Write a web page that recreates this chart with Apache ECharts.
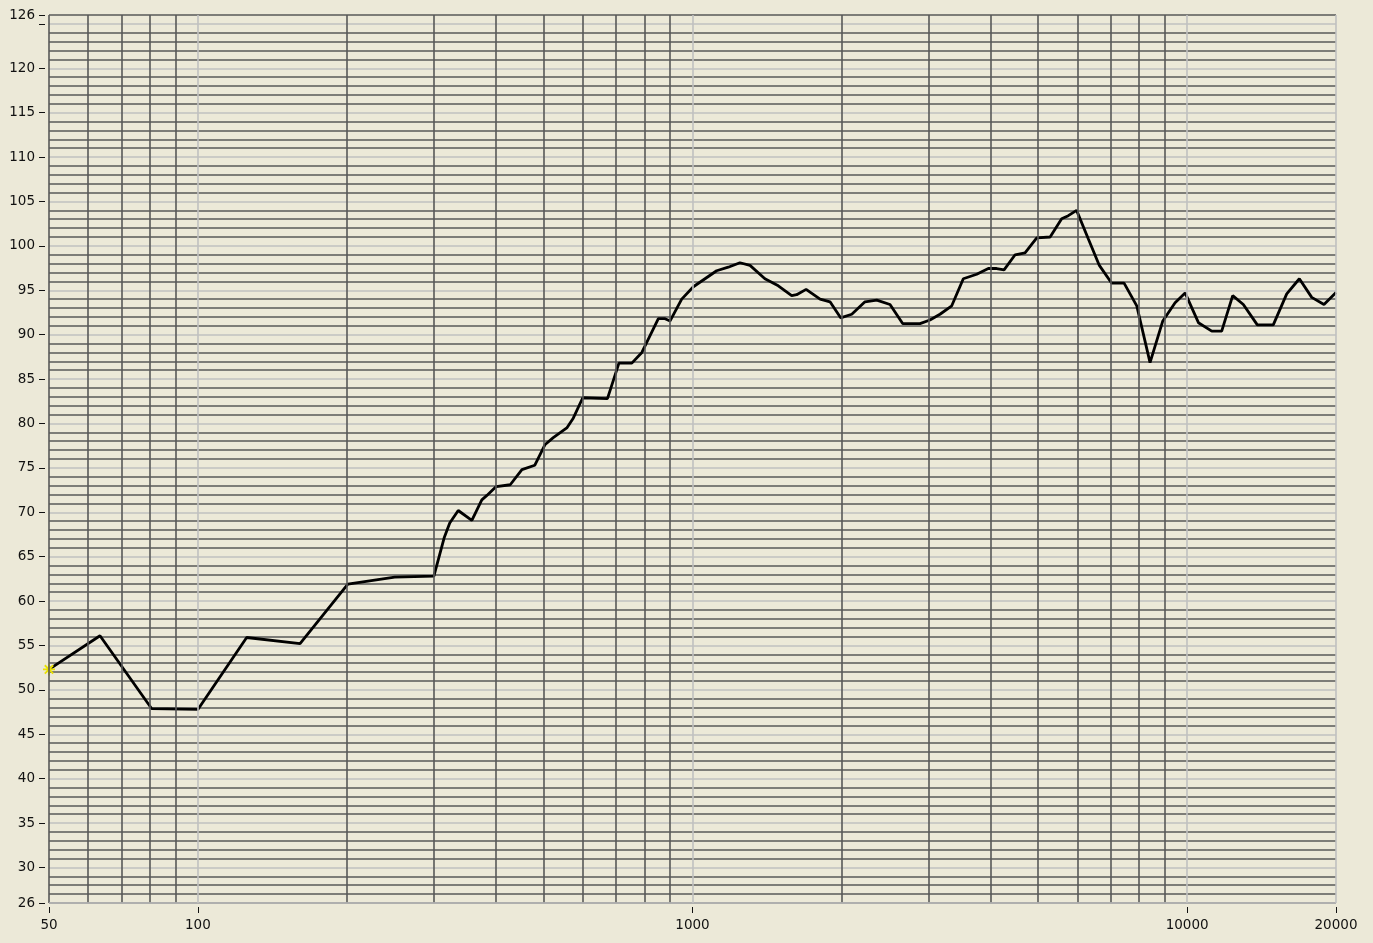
<!DOCTYPE html>
<html>
<head>
<meta charset="utf-8">
<script src="https://cdn.jsdelivr.net/npm/echarts@6/dist/echarts.min.js"></script>
<style>
html,body{margin:0;padding:0;background:#ECE9D8;}
#chart{width:1373px;height:943px;}
</style>
</head>
<body>
<div id="chart"></div>
<script>
// Frequency (Hz) of each vertex of the response curve
const freqs = [50, 63.4, 80.6, 100, 125.5, 160.9, 201, 250, 300, 315, 323, 336, 358, 375, 384, 401, 428, 452, 480, 503, 523, 557, 574, 600, 673, 710, 754, 790, 853, 880, 901, 951, 1004, 1060, 1119, 1181, 1247, 1307, 1401, 1491, 1587, 1624, 1697, 1811, 1897, 1993, 2099, 2232, 2358, 2508, 2660, 2884, 3021, 3165, 3343, 3528, 3755, 3964, 4120, 4265, 4490, 4702, 4966, 5285, 5577, 5752, 5978, 6312, 6646, 7040, 7457, 7911, 8415, 8930, 9455, 9908, 10542, 11217, 11747, 12365, 12992, 13866, 14935, 15900, 16864, 17865, 18913, 20000];
// Level (dB) at each vertex
const levels = [52.3, 56.1, 47.9, 47.8, 55.9, 55.2, 61.9, 62.7, 62.8, 67.2, 68.8, 70.2, 69.1, 71.4, 71.9, 72.9, 73.1, 74.8, 75.3, 77.6, 78.4, 79.5, 80.6, 82.9, 82.8, 86.8, 86.8, 88.0, 91.8, 91.8, 91.55, 94.0, 95.4, 96.3, 97.2, 97.6, 98.1, 97.8, 96.3, 95.5, 94.4, 94.5, 95.1, 94.0, 93.7, 91.9, 92.3, 93.7, 93.9, 93.4, 91.25, 91.25, 91.65, 92.3, 93.25, 96.3, 96.8, 97.45, 97.45, 97.3, 99.0, 99.2, 100.9, 101.0, 103.05, 103.4, 104.0, 100.8, 97.8, 95.8, 95.8, 93.25, 86.85, 91.55, 93.6, 94.7, 91.35, 90.4, 90.4, 94.4, 93.4, 91.1, 91.1, 94.6, 96.3, 94.2, 93.4, 94.75];

// Axis ticks / labels
const yTickValues = [26, 30, 35, 40, 45, 50, 55, 60, 65, 70, 75, 80, 85, 90, 95, 100, 105, 110, 115, 120, 125, 126];
const yLabelValues = [26, 30, 35, 40, 45, 50, 55, 60, 65, 70, 75, 80, 85, 90, 95, 100, 105, 110, 115, 120, 126];
const xTickValues = [50, 100, 1000, 10000, 20000];

// Vertical grid lines
const gridDark = [50, 60, 70, 80, 90, 200, 300, 400, 500, 600, 700, 800, 900, 2000, 3000, 4000, 5000, 6000, 7000, 8000, 9000];
const gridLight = [100, 1000, 10000, 20000];

const DARK = '#585858';
const LIGHT = '#c0c0c0';

const lineData = freqs.map((f, i) => [f, levels[i]]);

const chart = echarts.init(document.getElementById('chart'), null, {renderer: 'canvas'});

const markData = [];
gridDark.forEach(v => markData.push({xAxis: v, lineStyle: {color: DARK, width: 1.6, type: 'solid'}}));
gridLight.forEach(v => markData.push({xAxis: v, lineStyle: {color: LIGHT, width: 1.6, type: 'solid'}}));
markData.push({yAxis: 26, lineStyle: {color: LIGHT, width: 1.5, type: 'solid'}});

const font = {fontFamily: 'DejaVu Sans', fontSize: 13.5, color: '#111'};

chart.setOption({
  backgroundColor: '#ECE9D8',
  animation: false,
  grid: {left: 49, right: 37, top: 15, bottom: 40, show: false},
  xAxis: [{
    type: 'log', logBase: 10, min: 50, max: 20000,
    position: 'bottom', offset: 4,
    axisLine: {show: false},
    axisTick: {show: true, length: 6, customValues: xTickValues, lineStyle: {color: '#111', width: 1}},
    axisLabel: {show: true, customValues: xTickValues, margin: 11, formatter: v => String(Math.round(v)), ...font},
    splitLine: {show: false},
    minorTick: {show: false}
  }],
  yAxis: [{
    type: 'value', min: 26, max: 126, interval: 1,
    axisLine: {show: false}, axisTick: {show: false}, axisLabel: {show: false},
    splitLine: {show: true, lineStyle: {color: [DARK, DARK, DARK, DARK, LIGHT], width: 1.5}}
  }, {
    type: 'value', min: 26, max: 126,
    position: 'left', offset: 4,
    axisLine: {show: false},
    axisTick: {show: true, length: 6, customValues: yTickValues, lineStyle: {color: '#111', width: 1}},
    axisLabel: {show: true, customValues: yLabelValues, margin: 10, ...font},
    splitLine: {show: false}
  }],
  series: [{
    type: 'line', xAxisIndex: 0, yAxisIndex: 0, data: [], z: 1, silent: true,
    markLine: {silent: true, symbol: ['none', 'none'], label: {show: false}, animation: false, data: markData}
  }, {
    type: 'line', xAxisIndex: 0, yAxisIndex: 0, z: 3,
    data: lineData.map((d, i) => i === 0 ? {value: d, symbol: 'path://M5,0L5,10M0,5L10,5M1.5,1.5L8.5,8.5M1.5,8.5L8.5,1.5', symbolSize: 12, itemStyle: {color: '#f0e800', borderColor: '#e8e000', borderWidth: 1.8}} : d),
    showSymbol: true, symbol: 'none', clip: false,
    lineStyle: {color: '#000', width: 2.8},
    emphasis: {disabled: true}
  }]
});
</script>
</body>
</html>
